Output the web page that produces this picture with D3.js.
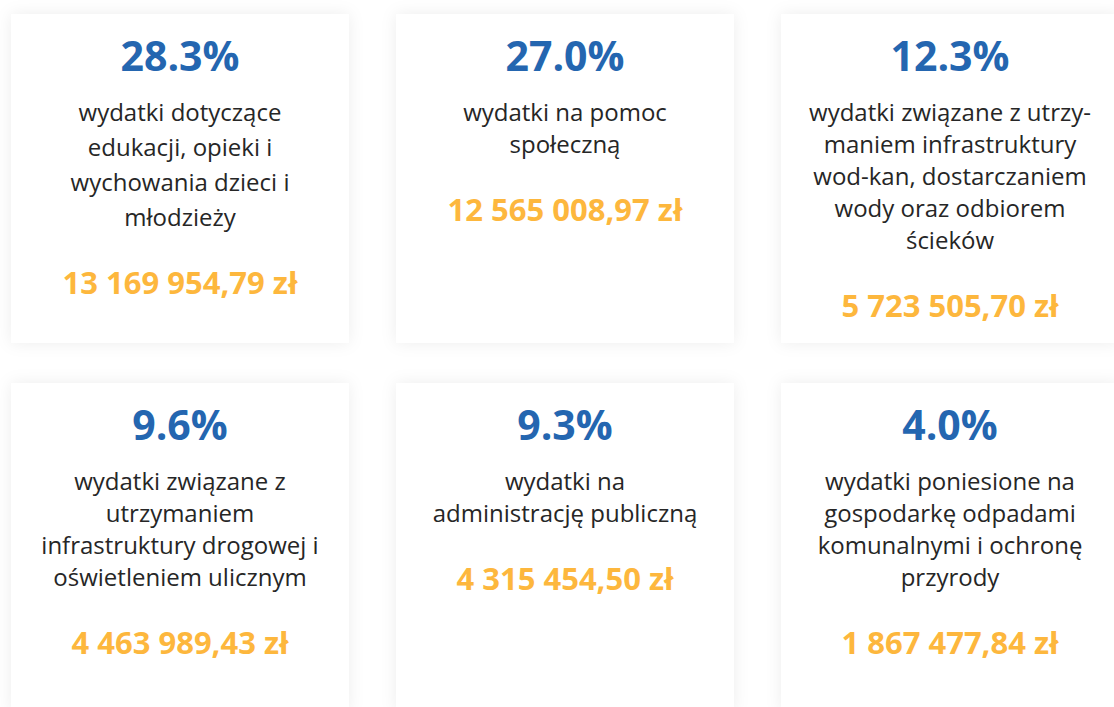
<!DOCTYPE html>
<html>
<head>
<meta charset="utf-8">
<script src="https://cdn.jsdelivr.net/npm/d3@7"></script>
<style>
  body { margin: 0; background: #fff; }
  svg { display: block; }
</style>
</head>
<body>
<div class="tiles"></div>
<script>
// udział w wydatkach (%)
const shares = [28.3, 27.0, 12.3, 9.6, 9.3, 4.0];

// kwoty w zł
const amounts = [13169954.79, 12565008.97, 5723505.70, 4463989.43, 4315454.50, 1867477.84];

// opisy, już podzielone na linie
const labels = [
  ["wydatki dotyczące", "edukacji, opieki i", "wychowania dzieci i", "młodzieży"],
  ["wydatki na pomoc", "społeczną"],
  ["wydatki związane z utrzy-", "maniem infrastruktury", "wod-kan, dostarczaniem", "wody oraz odbiorem", "ścieków"],
  ["wydatki związane z", "utrzymaniem", "infrastruktury drogowej i", "oświetleniem ulicznym"],
  ["wydatki na", "administrację publiczną"],
  ["wydatki poniesione na", "gospodarkę odpadami", "komunalnymi i ochronę", "przyrody"]
];

const width = 1114;
const height = 707;

const pl = d3.formatLocale({decimal: ",", thousands: "\u00a0", grouping: [3], currency: ["", "\u00a0zł"]});
const fmtAmount = pl.format("$,.2f");
const fmtShare = d3.format(".1f");

const data = shares.map((s, i) => ({
  share: s, amount: amounts[i], lines: labels[i],
  col: i % 3, row: Math.floor(i / 3),
  step: i === 0 ? 35 : 32   // pierwszy kafelek ma w oryginale luźniejsze linie
}));

const x = d3.scaleBand().domain([0, 1, 2]).range([11, 1119]).paddingInner(47 / 385);
const y = d3.scaleBand().domain([0, 1]).range([14, 712]).paddingInner(40 / 369);

const svg = d3.select('.tiles').append('svg')
  .attr('width', width)
  .attr('height', height);

const filter = svg.append('defs').append('filter')
  .attr('id', 'shadow')
  .attr('x', '-20%').attr('y', '-20%')
  .attr('width', '140%').attr('height', '140%');
filter.append('feDropShadow')
  .attr('dx', 0).attr('dy', 0)
  .attr('stdDeviation', 8)
  .attr('flood-color', '#000')
  .attr('flood-opacity', 0.07);

const tile = svg.selectAll('.tile')
  .data(data)
  .enter()
  .append('g')
  .attr('class', 'tile')
  .attr('transform', d => `translate(${x(d.col)},${y(d.row)})`);

tile.append('rect')
  .attr('width', x.bandwidth())
  .attr('height', y.bandwidth())
  .attr('fill', '#fff')
  .attr('filter', 'url(#shadow)');

const cx = x.bandwidth() / 2;
const firstLine = 107;

tile.append('text')
  .attr('x', cx)
  .attr('y', 57)
  .attr('text-anchor', 'middle')
  .attr('font-family', 'Open Sans')
  .attr('font-weight', 'bold')
  .attr('font-size', 41)
  .attr('fill', '#2466b0')
  .text(d => fmtShare(d.share) + '%');

tile.append('text')
  .attr('text-anchor', 'middle')
  .attr('font-family', 'Open Sans')
  .attr('font-size', 24)
  .attr('fill', '#262626')
  .selectAll('tspan')
  .data(d => d.lines.map(l => ({l, step: d.step})))
  .enter()
  .append('tspan')
  .attr('x', cx)
  .attr('y', (t, j) => firstLine + j * t.step)
  .text(t => t.l);

tile.append('text')
  .attr('x', cx)
  .attr('y', d => firstLine + (d.lines.length - 1) * d.step + 68)
  .attr('text-anchor', 'middle')
  .attr('font-family', 'Open Sans')
  .attr('font-weight', 'bold')
  .attr('font-size', 31)
  .attr('fill', '#fdb73d')
  .text(d => fmtAmount(d.amount));
</script>
</body>
</html>
